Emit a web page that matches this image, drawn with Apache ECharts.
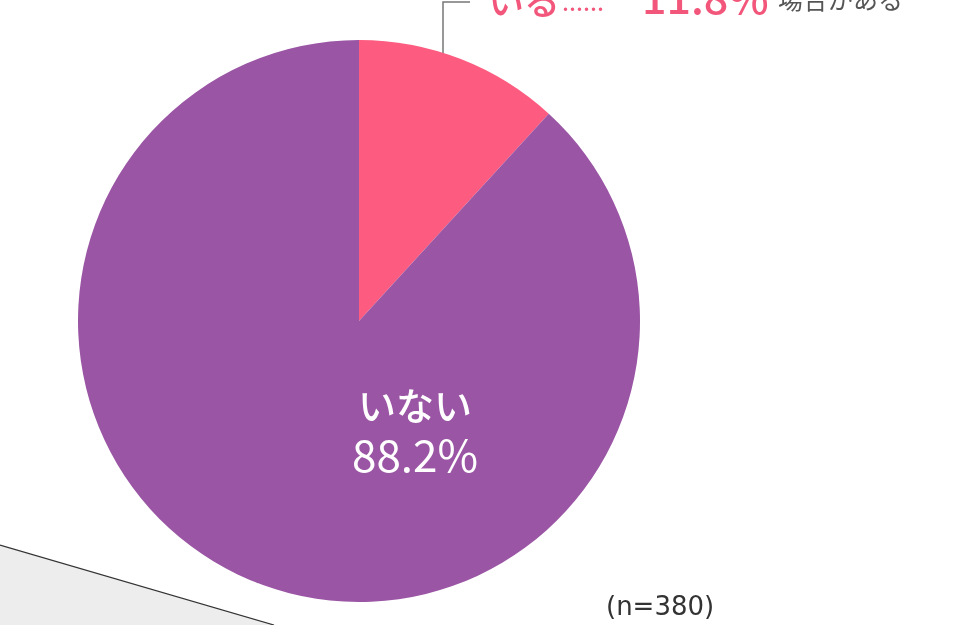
<!DOCTYPE html>
<html>
<head>
<meta charset="utf-8">
<script src="https://cdn.jsdelivr.net/npm/echarts@6/dist/echarts.min.js"></script>
<style>
html,body{margin:0;padding:0;background:#fff;}
#c{width:959px;height:625px;}
</style>
</head>
<body>
<div id="c"></div>
<script>
var categories = ['いる', 'いない'];
var values = [11.8, 88.2];
var colors = ['#fd5b7f', '#9a55a4'];
var sampleNote = '(n=380)';
var extraNote = '場合がある';

var FONT = '"Noto Sans CJK JP", "Noto Sans", sans-serif';
var chart = echarts.init(document.getElementById('c'));

var data = categories.map(function (c, i) {
  return { name: c, value: values[i], itemStyle: { color: colors[i] } };
});

chart.setOption({
  animation: false,
  backgroundColor: '#ffffff',
  graphic: [
    {
      type: 'polygon',
      shape: { points: [[0, 545], [274, 625], [0, 625]] },
      style: { fill: '#ededed', stroke: null },
      z: 0
    },
    {
      type: 'line',
      shape: { x1: 0, y1: 545, x2: 274, y2: 625 },
      style: { stroke: '#333', lineWidth: 1.3 },
      z: 1
    },
    {
      type: 'text',
      left: 606, top: 595,
      style: { text: sampleNote, font: '400 26px "DejaVu Sans", sans-serif', fill: '#333' }
    },
    {
      type: 'text',
      left: 778, top: -13,
      style: { text: extraNote, font: '400 25px ' + FONT, fill: '#555' }
    }
  ],
  series: [{
    type: 'pie',
    center: [359, 321],
    radius: 281,
    startAngle: 90,
    clockwise: true,
    silent: true,
    data: data,
    itemStyle: { borderWidth: 0 },
    label: {
      show: true,
      position: 'outside',
      formatter: function (p) {
        if (p.dataIndex === 0) return '{a|' + p.name + '}{d|……}{n|' + p.value.toFixed(1) + '%}';
        return '{b|' + p.name + '}\n{c|' + p.value.toFixed(1) + '%}';
      },
      rich: {
        a: { fontFamily: FONT, fontSize: 36, fontWeight: 500, color: '#f2577b', verticalAlign: 'bottom' },
        d: { fontFamily: FONT, fontSize: 21, fontWeight: 700, color: '#f2577b', padding: [0, 38, 0, 2], verticalAlign: 'bottom' },
        n: { fontFamily: FONT, fontSize: 43, fontWeight: 500, color: '#f2577b', verticalAlign: 'bottom' },
        b: { fontFamily: FONT, fontSize: 38, fontWeight: 500, color: '#fff', lineHeight: 48, align: 'center' },
        c: { fontFamily: FONT, fontSize: 44, fontWeight: 400, color: '#fff', lineHeight: 50, align: 'center' }
      }
    },
    labelLine: {
      show: true,
      lineStyle: { color: '#777', width: 1.5 }
    },
    labelLayout: function (p) {
      if (p.dataIndex === 0) {
        return {
          x: 488, y: -2, align: 'left', verticalAlign: 'middle',
          labelLinePoints: [[443, 56], [443, 2], [470, 2]]
        };
      }
      return { x: 415, y: 431, align: 'center', verticalAlign: 'middle' };
    }
  }]
});
</script>
</body>
</html>
